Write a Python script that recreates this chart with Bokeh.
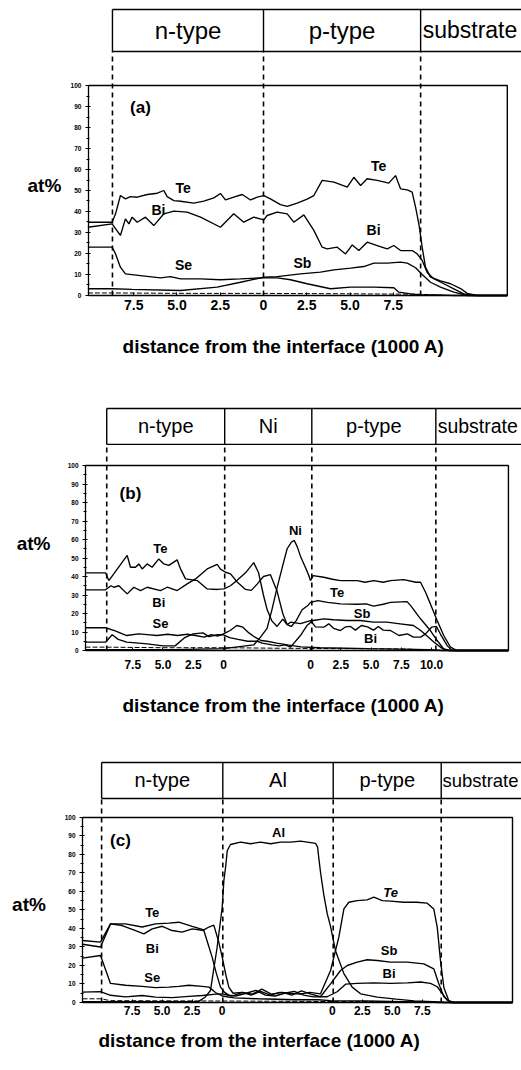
from bokeh.plotting import figure
from bokeh.models import FixedTicker, ColumnDataSource, LinearAxis
from bokeh.layouts import column
from bokeh.core.properties import value, field
from bokeh.embed import file_html
from bokeh.resources import INLINE

FONT = "Liberation Sans"

# ---------------- data (x in 1000 A, y in at%) ----------------
y_major = [0, 10, 20, 30, 40, 50, 60, 70, 80, 90, 100]
y_minor = [5, 15, 25, 35, 45, 55, 65, 75, 85, 95]

# panel (a)
a_layers = ["n-type", "p-type", "substrate"]
a_bounds = [-8.73, 0.0, 9.08]
a_n_ticks = ["7.5", "5.0", "2.5", "0"]
a_p_ticks = ["2.5", "5.0", "7.5"]
a_p0 = 0.0
a_te = [(-10.15, 34.9), (-8.75, 34.9), (-8.55, 38.9), (-8.27, 47.6), (-7.98, 46.0), (-7.69, 47.1), (-7.3, 46.8),
        (-6.72, 48.1), (-6.14, 48.7), (-5.76, 50.0), (-5.57, 47.1), (-5.18, 45.2), (-4.8, 44.9), (-4.03, 44.0),
        (-3.45, 44.9), (-2.87, 46.5), (-2.49, 48.6), (-2.2, 45.5), (-1.72, 46.8), (-1.23, 48.1), (-0.75, 45.5),
        (-0.36, 46.8), (0.02, 47.6), (0.4, 46.0), (0.98, 43.3), (1.37, 42.4), (1.95, 44.0), (2.52, 45.9),
        (2.91, 47.6), (3.39, 54.8), (4.07, 54.0), (4.84, 51.6), (5.22, 56.3), (5.61, 52.4), (5.99, 55.6),
        (6.57, 54.8), (7.24, 53.5), (7.63, 57.1), (7.82, 53.0), (7.92, 50.8), (8.31, 50.3), (8.59, 49.2),
        (8.79, 42.0), (8.98, 34.0), (9.17, 23.0), (9.36, 13.5), (9.65, 8.7), (10.23, 7.0), (10.81, 5.6),
        (11.39, 3.3), (11.77, 1.0), (12.35, 0.0), (14.09, 0.0)]
a_bi = [(-10.15, 32.5), (-8.75, 34.1), (-8.27, 28.6), (-7.98, 36.5), (-7.78, 34.1), (-7.59, 37.3), (-7.3, 34.9),
        (-6.82, 37.3), (-6.34, 33.3), (-5.76, 38.9), (-5.18, 40.2), (-4.41, 39.7), (-3.64, 37.3), (-2.49, 32.5),
        (-1.72, 38.9), (-1.14, 34.9), (-0.56, 37.3), (0.02, 36.0), (0.21, 38.1), (0.79, 39.7), (1.37, 38.9),
        (1.75, 34.9), (2.33, 38.4), (2.91, 31.0), (3.39, 23.0), (3.68, 22.2), (4.26, 23.0), (4.74, 19.8),
        (5.13, 24.1), (5.51, 21.4), (5.99, 25.4), (6.57, 23.8), (7.15, 22.2), (7.53, 23.8), (7.92, 21.4),
        (8.59, 21.4), (8.88, 19.8), (9.17, 16.7), (9.46, 11.0), (9.84, 8.0), (10.42, 5.6), (11.0, 3.2),
        (11.58, 0.8), (12.16, 0.0), (14.09, 0.0)]
a_se = [(-10.15, 23.0), (-8.75, 23.0), (-8.55, 19.8), (-8.27, 13.5), (-7.98, 10.3), (-7.11, 9.5), (-5.95, 8.4),
        (-5.38, 9.0), (-4.8, 7.9), (-3.64, 7.9), (-2.49, 7.5), (-1.33, 7.9), (-0.17, 8.4), (0.79, 8.4),
        (1.56, 7.5), (2.52, 5.6), (3.87, 3.2), (5.03, 4.0), (6.38, 4.0), (7.53, 3.7), (7.82, 1.6), (8.5, 0.8),
        (9.08, 0.3), (10.0, 0.3), (11.0, 0.0), (14.09, 0.0)]
a_sb = [(-10.15, 3.2), (-8.75, 3.2), (-7.59, 2.9), (-4.8, 2.4), (-2.68, 4.0), (-1.33, 6.3), (0.02, 8.7),
        (0.79, 9.0), (2.14, 10.3), (3.29, 11.1), (4.07, 12.2), (5.03, 13.0), (5.8, 13.8), (6.38, 15.4),
        (7.15, 15.4), (7.92, 15.9), (8.31, 15.4), (8.79, 13.2), (9.17, 10.0), (9.65, 6.3), (10.23, 4.0),
        (11.0, 1.6), (11.77, 0.0), (14.09, 0.0)]
a_low = [(-10.15, 1.2), (-8.75, 1.2), (-4.0, 1.0), (0.0, 1.0), (5.0, 0.8), (9.0, 0.6), (10.5, 0.0)]
a_lab_text = ["Te", "Te", "Bi", "Bi", "Se", "Sb"]
a_lab_x = [-4.65, 6.65, -6.07, 6.36, -4.62, 2.25]
a_lab_y = [51.0, 61.9, 40.5, 31.0, 14.3, 15.7]
a_lab_style = ["bold"] * 6

# panel (b)
b_layers = ["n-type", "Ni", "p-type", "substrate"]
b_bounds = [-9.65, 0.1, 7.3, 17.55]
b_n_ticks = ["7.5", "5.0", "2.5", "0"]
b_p_ticks = ["0", "2.5", "5.0", "7.5", "10.0"]
b_p0 = 7.2
b_te = [(-11.4, 42.0), (-9.75, 42.0), (-9.48, 37.8), (-9.07, 41.4), (-7.96, 51.4), (-7.69, 45.0), (-7.27, 45.0),
        (-7.0, 46.8), (-6.72, 44.1), (-6.31, 46.8), (-5.9, 45.0), (-5.35, 49.5), (-4.93, 46.8), (-4.52, 46.0),
        (-3.83, 49.0), (-3.55, 44.1), (-3.14, 38.7), (-2.17, 37.8), (-1.35, 33.3), (-0.52, 33.0), (0.03, 33.3),
        (0.58, 35.0), (1.13, 38.0), (1.82, 42.0), (2.5, 47.5), (2.9, 42.0), (3.3, 30.0), (3.61, 22.0),
        (4.0, 16.0), (4.43, 13.0), (4.9, 17.0), (5.26, 14.0), (5.54, 15.3), (6.36, 14.5), (7.19, 16.2),
        (7.6, 12.8), (8.29, 12.6), (8.7, 14.4), (9.1, 12.0), (9.67, 10.8), (10.1, 12.8), (10.5, 13.0),
        (10.9, 11.0), (11.4, 13.5), (11.9, 12.8), (12.4, 11.0), (12.8, 13.0), (13.2, 11.0), (13.8, 10.8),
        (14.5, 8.1), (15.2, 9.0), (15.7, 7.2), (16.3, 7.2), (16.7, 9.0), (17.2, 12.6), (17.6, 13.0),
        (18.0, 8.0), (18.5, 2.5), (18.9, 0.0), (23.55, 0.0)]
b_bi = [(-11.4, 32.8), (-9.75, 32.8), (-9.3, 35.0), (-9.07, 34.2), (-8.65, 35.0), (-7.96, 30.6), (-7.41, 34.2),
        (-6.86, 32.4), (-6.31, 34.2), (-5.21, 32.4), (-4.65, 34.2), (-3.83, 32.4), (-3.0, 36.0), (-2.31, 38.7),
        (-1.35, 44.1), (-0.52, 46.5), (-0.25, 44.0), (0.17, 42.3), (0.58, 41.4), (1.13, 37.0), (1.82, 33.0),
        (2.3, 32.5), (2.8, 36.0), (3.3, 40.0), (3.88, 41.0), (4.43, 32.0), (4.9, 20.0), (5.26, 14.0),
        (5.6, 13.0), (6.0, 16.0), (6.5, 22.0), (7.0, 24.5), (7.19, 26.0), (7.8, 27.0), (8.6, 26.0),
        (9.67, 25.2), (11.05, 25.0), (11.8, 25.2), (12.4, 24.0), (13.2, 25.0), (13.8, 26.0), (15.18, 26.4),
        (15.5, 24.0), (16.3, 17.0), (17.1, 10.8), (17.66, 5.4), (18.2, 0.9), (18.7, 0.0), (23.55, 0.0)]
b_ni = [(-11.4, 0.5), (-4.0, 0.5), (0.0, 1.0), (2.5, 3.0), (3.06, 7.2), (3.6, 12.0), (4.0, 22.0), (4.43, 34.0),
        (4.9, 46.0), (5.26, 55.0), (5.6, 58.5), (5.85, 59.5), (6.1, 56.0), (6.36, 51.0), (6.8, 44.5),
        (7.05, 40.5), (7.19, 37.8), (7.4, 40.5), (8.29, 39.6), (9.0, 38.5), (9.67, 37.8), (10.5, 37.8),
        (11.05, 37.8), (11.7, 36.9), (12.42, 37.8), (13.2, 36.9), (13.8, 37.8), (14.9, 38.3), (15.9, 36.9),
        (16.28, 36.9), (16.7, 31.5), (17.1, 25.2), (17.66, 16.2), (18.2, 8.1), (18.76, 1.8), (19.3, 0.0),
        (23.55, 0.0)]
b_se = [(-11.4, 12.3), (-9.75, 12.3), (-9.0, 10.8), (-8.0, 8.1), (-7.0, 9.0), (-6.3, 8.6), (-5.5, 8.1),
        (-4.6, 8.8), (-3.8, 8.1), (-3.0, 8.8), (-2.3, 8.1), (-1.6, 7.2), (-1.0, 8.6), (-0.5, 7.8), (0.0, 9.0),
        (0.55, 10.8), (1.1, 13.5), (1.6, 12.6), (2.1, 9.5), (2.6, 7.2), (3.1, 5.4), (3.6, 5.0), (4.4, 4.0),
        (5.3, 3.0), (6.4, 2.0), (8.0, 1.5), (12.0, 1.0), (17.0, 0.5), (18.0, 0.0), (23.55, 0.0)]
b_sb = [(-11.4, 4.5), (-9.75, 4.5), (-9.2, 8.5), (-8.7, 6.0), (-8.0, 4.5), (-6.3, 3.6), (-5.0, 2.5), (-4.0, 2.5),
        (-3.2, 7.0), (-2.5, 9.0), (-1.7, 9.5), (-1.2, 7.5), (-0.5, 8.5), (0.0, 8.5), (0.5, 7.0), (1.2, 6.0),
        (2.0, 5.0), (2.8, 5.0), (3.2, 4.0), (4.0, 3.0), (4.6, 2.5), (5.1, 3.0), (5.54, 1.8), (6.36, 8.1),
        (6.9, 13.5), (7.4, 16.2), (8.29, 17.1), (9.1, 16.6), (10.2, 16.2), (11.3, 16.2), (12.4, 15.3),
        (13.5, 15.3), (14.6, 14.4), (15.7, 13.5), (16.3, 10.8), (16.8, 8.0), (17.4, 4.5), (18.1, 1.0),
        (18.6, 0.0), (23.55, 0.0)]
b_low = [(-11.4, 1.8), (-9.75, 1.8), (-5.0, 1.5), (0.0, 1.5), (5.0, 1.2), (10.0, 1.0), (15.0, 0.8), (18.3, 0.0)]
b_lab_text = ["Ni", "Te", "Bi", "Se", "Te", "Sb", "Bi"]
b_lab_x = [5.95, -5.21, -5.35, -5.21, 9.4, 11.46, 12.15]
b_lab_y = [64.9, 55.0, 26.1, 14.4, 31.5, 19.8, 6.3]
b_lab_style = ["bold"] * 7

# panel (c)
c_layers = ["n-type", "Al", "p-type", "substrate"]
c_bounds = [-10.05, 0.05, 9.25, 18.25]
c_n_ticks = ["7.5", "5.0", "2.5", "0"]
c_p_ticks = ["0", "2.5", "5.0", "7.5"]
c_p0 = 9.17
c_al = [(-11.64, 0.5), (-2.0, 0.5), (-1.4, 3.0), (-0.975, 6.5), (-0.42, 30.0), (0.0, 51.5), (0.14, 66.0),
        (0.28, 73.0), (0.42, 82.0), (0.69, 85.4), (1.53, 86.7), (2.36, 85.8), (3.19, 86.7), (4.03, 85.8),
        (4.86, 86.7), (5.69, 86.7), (6.53, 87.2), (7.78, 86.0), (7.95, 84.0), (8.05, 78.0), (8.2, 70.0),
        (8.47, 58.0), (8.75, 48.0), (9.03, 41.0), (9.44, 28.0), (10.14, 15.6), (10.83, 8.3), (11.53, 4.7),
        (12.92, 2.9), (14.5, 1.8), (16.0, 0.9), (17.6, 0.4), (18.5, 0.0), (24.19, 0.0)]
c_te = [(-11.64, 33.5), (-10.14, 32.6), (-9.31, 42.5), (-8.06, 42.5), (-6.67, 40.8), (-5.56, 42.5), (-4.45, 42.9),
        (-3.62, 43.4), (-2.5, 41.1), (-1.53, 39.3), (-1.11, 40.8), (-0.7, 41.8), (-0.3, 33.0), (0.0, 24.5),
        (0.3, 15.0), (0.55, 8.3), (0.9, 5.0), (1.67, 5.5), (2.4, 4.0), (3.2, 6.0), (4.0, 4.0), (4.8, 5.5),
        (5.6, 5.0), (6.5, 4.5), (7.3, 5.5), (8.19, 4.7), (9.03, 17.3), (9.72, 35.3), (10.14, 50.6),
        (10.55, 54.2), (11.25, 55.1), (12.08, 55.5), (12.64, 56.9), (13.33, 55.1), (14.03, 54.8),
        (15.14, 54.2), (16.2, 54.2), (17.08, 53.7), (17.63, 50.6), (17.92, 40.6), (18.19, 22.6), (18.47, 8.1),
        (18.88, 1.0), (19.3, 0.0), (24.19, 0.0)]
c_bi = [(-11.64, 31.5), (-10.14, 30.0), (-9.31, 42.5), (-8.34, 41.6), (-7.22, 38.9), (-6.53, 37.1), (-5.83, 39.8),
        (-5.0, 41.2), (-4.17, 38.9), (-3.34, 38.0), (-2.5, 39.8), (-1.53, 38.9), (-1.2, 32.0), (-0.84, 24.5),
        (-0.5, 16.0), (-0.14, 8.3), (0.2, 5.5), (0.55, 4.0), (1.11, 3.5), (2.0, 5.0), (2.8, 6.5), (3.6, 4.0),
        (4.4, 3.5), (5.2, 5.0), (6.0, 6.0), (6.8, 4.0), (7.6, 3.0), (8.75, 3.1), (9.58, 5.8), (10.28, 9.9),
        (11.25, 10.3), (12.64, 10.6), (14.03, 10.3), (15.42, 10.6), (16.53, 11.1), (17.36, 10.3),
        (17.92, 8.5), (18.33, 4.9), (18.75, 1.3), (19.17, 0.0), (24.19, 0.0)]
c_sb = [(-11.64, 5.6), (-10.14, 5.9), (-9.31, 3.9), (-8.06, 3.0), (-6.67, 3.8), (-5.56, 2.9), (-4.17, 2.6),
        (-2.78, 3.3), (-1.67, 3.8), (-0.5, 4.5), (0.0, 4.7), (0.8, 3.5), (1.7, 5.5), (2.5, 4.5), (3.3, 7.2),
        (4.1, 4.5), (5.0, 5.5), (5.8, 4.0), (6.6, 6.3), (7.4, 4.5), (8.19, 3.1), (9.03, 10.1), (9.86, 17.3),
        (10.42, 20.0), (11.25, 21.8), (12.08, 23.1), (12.92, 22.7), (14.03, 21.8), (15.42, 21.8),
        (16.8, 20.9), (17.63, 18.2), (18.05, 10.1), (18.47, 3.1), (19.03, 0.0), (24.19, 0.0)]
c_se = [(-11.64, 24.0), (-10.14, 25.4), (-9.31, 10.3), (-8.06, 9.3), (-6.67, 8.7), (-5.56, 8.0), (-4.45, 8.3),
        (-3.62, 8.7), (-2.78, 9.3), (-1.67, 8.7), (-1.1, 8.3), (-0.56, 5.4), (0.0, 3.5), (1.0, 2.5), (3.0, 2.0),
        (6.0, 1.5), (8.0, 1.5), (9.0, 1.0), (12.0, 0.8), (15.0, 0.5), (17.0, 0.3), (18.0, 0.0), (24.19, 0.0)]
c_low = [(-11.64, 2.0), (-10.14, 2.0), (-9.31, 1.0), (0.0, 0.8), (10.0, 0.5), (18.0, 0.3), (19.0, 0.0)]
c_lab_text = ["Al", "Te", "Bi", "Se", "Te", "Sb", "Bi"]
c_lab_x = [4.69, -5.83, -5.83, -5.83, 14.03, 13.9, 13.9]
c_lab_y = [91.9, 48.8, 29.0, 13.7, 59.6, 28.1, 15.5]
c_lab_style = ["bold", "bold", "bold", "bold", "bold italic", "bold", "bold"]

AXIS_TITLE = "distance from the interface (1000 A)"
Y_TITLE = "at%"


def build(tag, curves, low, lab_text, lab_x, lab_y, lab_style, layers, bounds, n_ticks, p_ticks, p0, g):
    p = figure(width=521, height=g["h"], x_range=(g["fx0"], g["fx1"]), y_range=(g["fy0"], g["fy1"]),
               output_backend="svg", toolbar_location=None, title=None,
               x_axis_location=None, y_axis_location=None,
               min_border=0, min_border_left=0, min_border_right=0, min_border_top=0, min_border_bottom=0)
    p.outline_line_color = None
    p.background_fill_color = "white"
    p.border_fill_color = "white"
    p.grid.visible = False

    # plot box (top and right side)
    p.line([g["x0"], g["box_r"], g["box_r"]], [100, 100, 0], color="black", line_width=1.4)

    # layer header boxes
    n = len(bounds)
    p.segment(x0=[bounds[0], bounds[0]], y0=[g["ht"], g["hb"]], x1=[g["fx1"], g["fx1"]], y1=[g["ht"], g["hb"]],
              color="black", line_width=1.4)
    p.segment(x0=bounds, y0=[g["hb"]] * n, x1=bounds, y1=[g["ht"]] * n, color="black", line_width=1.4)
    # dashed interface lines
    p.segment(x0=bounds, y0=[0] * n, x1=bounds, y1=[g["hb"]] * n, color="black", line_width=1.6,
              line_dash="5 4")
    hm = (g["ht"] + g["hb"]) / 2
    cx = [(bounds[i] + bounds[i + 1]) / 2 for i in range(n - 1)]
    p.text(x=cx, y=[hm] * (n - 1), text=layers[:-1], text_font=value(FONT), text_font_size=g["hfs"],
           text_align="center", text_baseline="middle", color="black")
    p.text(x=[bounds[-1] + g["sub_off"]], y=[hm], text=[layers[-1]], text_font=value(FONT),
           text_font_size=g["sfs"], text_align="left", text_baseline="middle", color="black")

    # profiles
    for pts in curves:
        p.line([q[0] for q in pts], [q[1] for q in pts], color="black", line_width=1.35)
    p.line([q[0] for q in low], [q[1] for q in low], color="black", line_width=1.0, line_dash="5 2")

    # element labels
    src = ColumnDataSource(dict(x=lab_x, y=lab_y, t=lab_text, s=lab_style))
    p.text(x="x", y="y", text="t", source=src, text_font=value(FONT), text_font_style=field("s"),
           text_font_size=g["lfs"], text_align="center", text_baseline="middle", color="black")
    # panel tag
    p.text(x=[g["tag_x"]], y=[g["tag_y"]], text=[tag], text_font=value(FONT), text_font_style="bold",
           text_font_size=g["tfs"], text_align="center", text_baseline="middle", color="black")
    # axis titles
    p.text(x=[g["at_x"]], y=[g["at_y"]], text=[Y_TITLE], text_font=value(FONT), text_font_style="bold",
           text_font_size="19px", text_align="center", text_baseline="middle", color="black")
    p.text(x=[g["ti_x"]], y=[g["ti_y"]], text=[AXIS_TITLE], text_font=value(FONT), text_font_style="bold",
           text_font_size=g["ttfs"], text_align="center", text_baseline="middle", color="black")

    # y axis at the plot's left edge
    yax = LinearAxis(fixed_location=g["x0"], ticker=FixedTicker(ticks=y_major, minor_ticks=y_minor),
                     bounds=(0, 100))
    yax.major_label_text_font = FONT
    yax.major_label_text_font_style = "bold"
    yax.major_label_text_font_size = "6.5px"
    yax.major_label_text_color = "black"
    yax.major_tick_in = 2
    yax.major_tick_out = 3
    yax.minor_tick_in = 1
    yax.minor_tick_out = 2
    yax.major_label_standoff = 4
    yax.axis_line_width = 1.3
    p.add_layout(yax, "left")

    pos = []
    over = {}
    for s in n_ticks:
        v = round(-float(s), 4) + 0.0
        pos.append(v)
        over[v] = s
    for s in p_ticks:
        v = round(p0 + float(s), 4)
        if v not in over:
            pos.append(v)
            over[v] = s
    xax = LinearAxis(fixed_location=0, ticker=FixedTicker(ticks=pos, minor_ticks=[]),
                     bounds=(g["x0"], g["box_r"]))
    xax.major_label_overrides = over
    xax.major_tick_in = 3
    xax.major_tick_out = 0
    xax.major_label_text_font = FONT
    xax.major_label_text_font_style = "bold"
    xax.major_label_text_font_size = g["xfs"]
    xax.major_label_text_color = "black"
    xax.major_label_standoff = g["xso"]
    xax.axis_line_width = 1.4
    p.add_layout(xax, "below")
    return p


ga = dict(h=380, fx0=-15.2, fx1=14.91, fy0=-40.48, fy1=140.48, x0=-10.12, box_r=14.09, ht=136.2, hb=116.2,
          hfs="24px", sfs="23px", sub_off=0.12, lfs="14px", tfs="17px", tag_x=-7.11, tag_y=89.5, xfs="14px",
          xso=5, at_x=-12.66, at_y=52.4, ti_x=1.16, ti_y=-24.3, ttfs="19px")
gb = dict(h=360, fx0=-18.43, fx1=24.63, fy0=-48.65, fy1=145.95, x0=-11.4, box_r=23.55, ht=130.8, hb=111.4,
          hfs="20px", sfs="19.5px", sub_off=0.15, lfs="13px", tfs="17px", tag_x=-7.69, tag_y=84.9, xfs="12px",
          xso=9, at_x=-15.7, at_y=57.8, ti_x=4.96, ti_y=-29.7, ttfs="19px")
gc = dict(h=330, fx0=-18.475, fx1=24.94, fy0=-36.76, fy1=141.62, x0=-11.64, box_r=24.19, ht=129.7, hb=110.3,
          hfs="20px", sfs="18.5px", sub_off=0.1, lfs="13px", tfs="17px", tag_x=-8.48, tag_y=87.6, xfs="12px",
          xso=4, at_x=-16.1, at_y=53.2, ti_x=3.1, ti_y=-20.5, ttfs="19px")

pa = build("(a)", [a_te, a_bi, a_se, a_sb], a_low, a_lab_text, a_lab_x, a_lab_y, a_lab_style,
           a_layers, a_bounds, a_n_ticks, a_p_ticks, a_p0, ga)
pb = build("(b)", [b_te, b_bi, b_ni, b_se, b_sb], b_low, b_lab_text, b_lab_x, b_lab_y, b_lab_style,
           b_layers, b_bounds, b_n_ticks, b_p_ticks, b_p0, gb)
pc = build("(c)", [c_al, c_te, c_bi, c_sb, c_se], c_low, c_lab_text, c_lab_x, c_lab_y, c_lab_style,
           c_layers, c_bounds, c_n_ticks, c_p_ticks, c_p0, gc)

layout = column(pa, pb, pc)
open("out.html", "w").write(file_html(layout, INLINE))
